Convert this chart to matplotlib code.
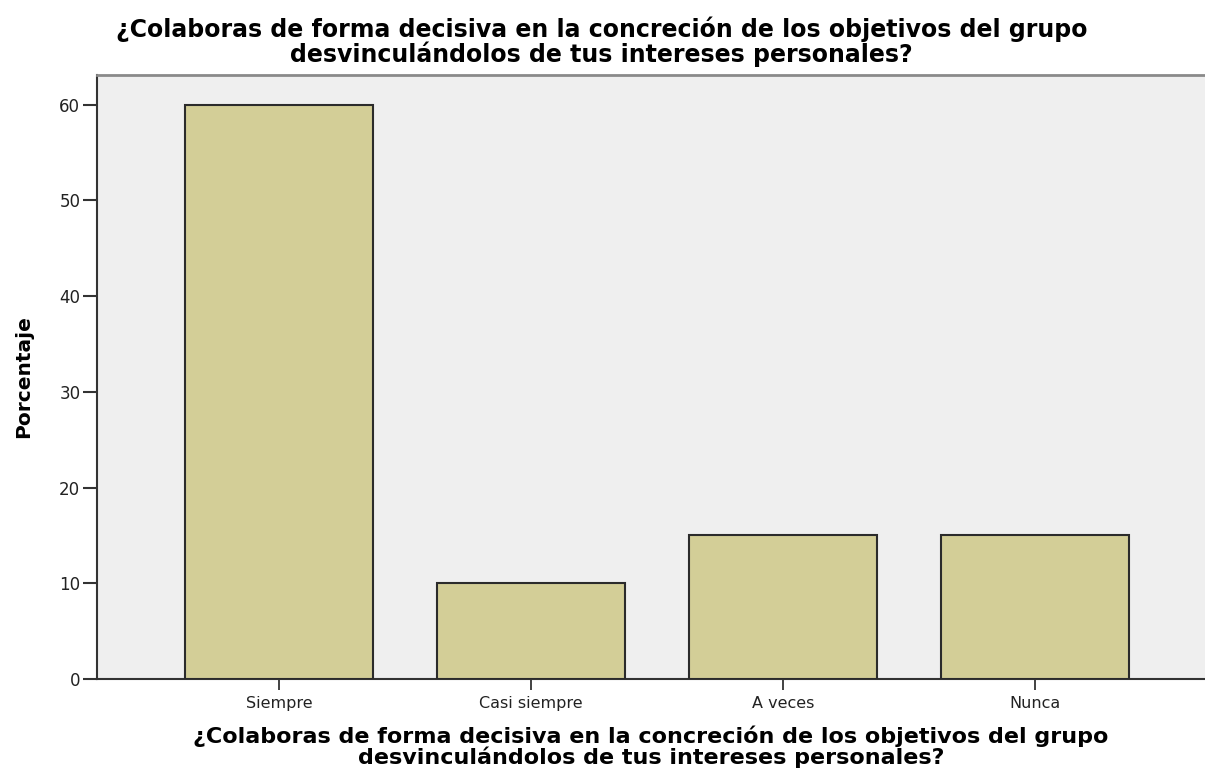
import matplotlib
matplotlib.use("Agg")
import matplotlib.pyplot as plt

categorias = ["Siempre", "Casi siempre", "A veces", "Nunca"]
porcentajes = [60, 10, 15, 15]
yticks = [0, 10, 20, 30, 40, 50, 60]

titulo = ("¿Colaboras de forma decisiva en la concreción de los objetivos del grupo\n"
          "desvinculándolos de tus intereses personales?")

fig = plt.figure(figsize=(12.05, 7.73), dpi=100)
# area del grafico como en la imagen (sin borde derecho visible)
ax = fig.add_axes([0.0805, 0.1216, 0.9195, 0.7814])
ax.set_facecolor("#efefef")

x = range(len(categorias))
ax.bar(x, porcentajes, width=0.746, color="#d3ce97", edgecolor="#2b2b2b", linewidth=1.5, zorder=3)

ax.set_xlim(-0.722, 3.675)
ax.set_ylim(0, 63.1)
ax.set_xticks(list(x))
ax.set_xticklabels(categorias, fontsize=11.5, color="#222222")
ax.set_yticks(yticks)
ax.set_yticklabels([str(v) for v in yticks], fontsize=12, color="#222222")
ax.tick_params(axis="y", length=10, width=1.5, color="#333333", pad=2)
ax.tick_params(axis="x", length=8, width=1.3, color="#333333", pad=4)

for s in ["left", "bottom"]:
    ax.spines[s].set_linewidth(1.5)
    ax.spines[s].set_color("#333333")
ax.spines["top"].set_color("#8a8a8a")
ax.spines["top"].set_linewidth(2)
ax.spines["right"].set_visible(False)

ax.set_ylabel("Porcentaje", fontsize=14.5, fontweight="bold", labelpad=19)
ax.set_xlabel(titulo, fontsize=16, fontweight="bold", linespacing=0.92, labelpad=11)
fig.text(0.499, 0.9457, titulo, ha="center", va="center", fontsize=17,
         fontweight="bold", linespacing=1.0)

fig.savefig("out.png", dpi=100)
